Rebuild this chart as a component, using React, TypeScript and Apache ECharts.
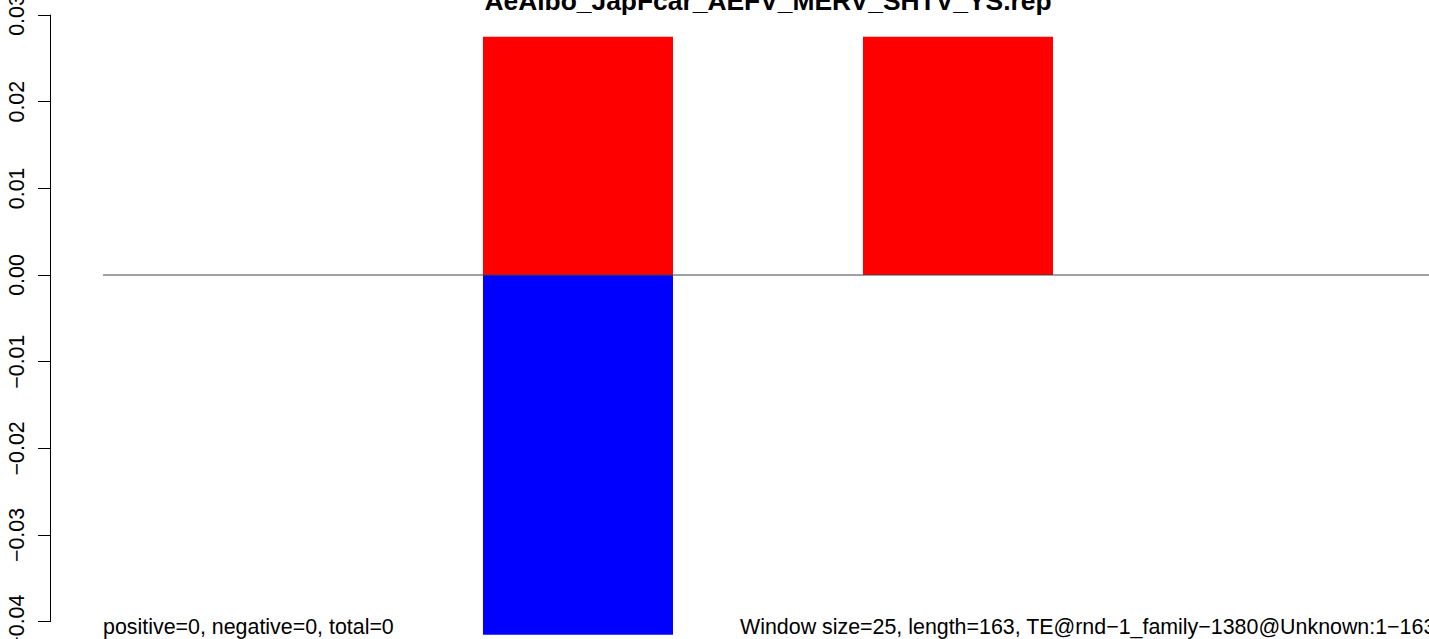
import React, { useEffect, useRef } from "react";
import * as echarts from "echarts";

const TITLE = "AeAlbo_JapFcar_AEFV_MERV_SHTV_YS.rep";
const LEFT_NOTE = "positive=0, negative=0, total=0";
const RIGHT_NOTE = "Window size=25, length=163, TE@rnd\u22121_family\u22121380@Unknown:1\u2212163";

// bar slots (barplot with space = 1, width = 1)
const barPositions = [1.5, 3.5, 5.5, 7.5];
const positiveValues = [0, 0.0275, 0.0275, 0];
const negativeValues = [0, -0.0415, 0, 0];
const zeroLineX = [1, 8];
const yTicks = [-0.04, -0.03, -0.02, -0.01, 0, 0.01, 0.02, 0.03];

const FONT = '"Liberation Sans", Arial, Helvetica, sans-serif';

export default function App() {
  const ref = useRef<HTMLDivElement>(null);
  useEffect(() => {
    if (!ref.current) return;
    const chart = echarts.init(ref.current, undefined, { renderer: "svg" });
    const fmt = (v: number) => {
      const s = Math.abs(v).toFixed(2);
      return v < -1e-9 ? "\u2212" + s : s;
    };
    chart.setOption({
      animation: false,
      backgroundColor: "#ffffff",
      grid: {
        left: 50,
        right: 0,
        top: 15,
        bottom: 17.3,
        containLabel: false,
        outerBoundsMode: "none",
      },
      xAxis: {
        type: "value",
        min: 0.7211,
        max: 7.979,
        show: false,
      },
      yAxis: {
        type: "value",
        min: yTicks[0],
        max: yTicks[yTicks.length - 1],
        interval: 0.01,
        axisLine: { show: true, lineStyle: { color: "#000", width: 1 } },
        axisTick: { show: true, length: 12, lineStyle: { color: "#000", width: 1 } },
        splitLine: { show: false },
        axisLabel: {
          rotate: 90,
          margin: 23,
          fontSize: 21.4,
          fontFamily: FONT,
          color: "#000",
          showMinLabel: true,
          showMaxLabel: true,
          hideOverlap: false,
          formatter: fmt,
        },
      },
      series: [
        {
          type: "bar",
          data: barPositions.map((x, i) => [x, positiveValues[i]]),
          barWidth: 190,
          barGap: "-100%",
          itemStyle: { color: "#ff0000" },
          clip: false,
          silent: true,
        },
        {
          type: "bar",
          data: barPositions.map((x, i) => [x, negativeValues[i]]),
          barWidth: 190,
          barGap: "-100%",
          itemStyle: { color: "#0000ff" },
          clip: false,
          silent: true,
        },
        {
          type: "line",
          data: zeroLineX.map((x) => [x, 0]),
          symbol: "none",
          lineStyle: { color: "#444444", width: 1 },
          z: 5,
          silent: true,
          clip: true,
        },
      ],
      graphic: [
        {
          type: "text",
          x: 768,
          y: 14,
          style: {
            text: TITLE,
            fontSize: 26.4,
            fontWeight: "bold",
            fontFamily: FONT,
            fill: "#000",
            align: "center",
            verticalAlign: "bottom",
          },
        },
        {
          type: "text",
          x: 103,
          y: 637,
          style: {
            text: LEFT_NOTE,
            fontSize: 21.4,
            fontFamily: FONT,
            fill: "#000",
            align: "left",
            verticalAlign: "bottom",
          },
        },
        {
          type: "text",
          x: 740,
          y: 637,
          style: {
            text: RIGHT_NOTE,
            fontSize: 21.4,
            fontFamily: FONT,
            fill: "#000",
            align: "left",
            verticalAlign: "bottom",
          },
        },
      ],
    });
    return () => chart.dispose();
  }, []);
  return (
    <div
      ref={ref}
      style={{ position: "fixed", left: 0, top: 0, width: 1429, height: 639, background: "#fff" }}
    />
  );
}
